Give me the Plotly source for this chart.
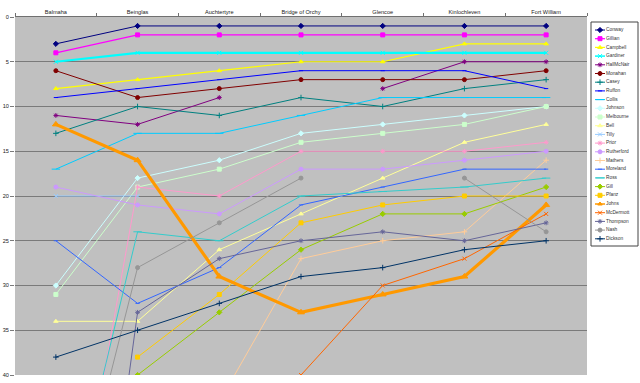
import plotly.graph_objects as go

# ---------------- data ----------------
stages = ["Balmaha", "Beinglas", "Auchtertyre", "Bridge of Orchy",
          "Glencoe", "Kinlochleven", "Fort William"]

conway     = [3, 1, 1, 1, 1, 1, 1]
gillian    = [4, 2, 2, 2, 2, 2, 2]
campbell   = [8, 7, 6, 5, 5, 3, 3]
gardiner   = [5, 4, 4, 4, 4, 4, 4]
hallmcnair = [11, 12, 9, None, 8, 5, 5]
monahan    = [6, 9, 8, 7, 7, 7, 6]
casey      = [13, 10, 11, 9, 10, 8, 7]
ruffon     = [9, 8, 7, 6, 6, 6, 8]
collis     = [17, 13, 13, 11, 9, 9, 9]
johnson    = [30, 18, 16, 13, 12, 11, 10]
melbourne  = [31, 19, 17, 14, 13, 12, 10]
bell       = [34, 34, 26, 22, 18, 14, 12]
tilly      = [20, 20, None, None, None, None, None]
prior      = [70, 19, 20, 15, 15, 15, 14]
rutherford = [19, 21, 22, 17, 17, 16, 15]
mathers    = [None, None, 43, 27, 25, 24, 16]
moreland   = [25, 32, 28, 21, 19, 17, 17]
ross       = [62, 24, 25, 20, 19.5, 19, 18]
gill       = [None, 40, 33, 26, 22, 22, 19]
pfanz      = [None, 38, 31, 23, 21, 20, 20]
johns      = [12, 16, 29, 33, 31, 29, 21]
mcdermott  = [None, None, None, 40, 30, 27, 22]
thompson   = [100, 33, 27, 25, 24, 25, 23]
nash       = [64, 28, 23, 18, None, 18, 24]
dickson    = [38, 35, 32, 29, 28, 26, 25]

names = ["Conway", "Gillian", "Campbell", "Gardiner", "HallMcNair", "Monahan",
         "Casey", "Ruffon", "Collis", "Johnson", "Melbourne", "Bell", "Tilly",
         "Prior", "Rutherford", "Mathers", "Moreland", "Ross", "Gill", "Pfanz",
         "Johns", "McDermott", "Thompson", "Nash", "Dickson"]
series = [conway, gillian, campbell, gardiner, hallmcnair, monahan, casey,
          ruffon, collis, johnson, melbourne, bell, tilly, prior, rutherford,
          mathers, moreland, ross, gill, pfanz, johns, mcdermott, thompson,
          nash, dickson]
y_ticks = [0, 5, 10, 15, 20, 25, 30, 35, 40]

# ---------------- styles ----------------
colors = ["#000080", "#FF00FF", "#FFFF00", "#00FFFF", "#800080", "#800000",
          "#008080", "#0000FF", "#00CCFF", "#CCFFFF", "#CCFFCC", "#FFFF99",
          "#99CCFF", "#FF99CC", "#CC99FF", "#FFCC99", "#3366FF", "#33CCCC",
          "#99CC00", "#FFCC00", "#FF9900", "#FF6600", "#666699", "#969696",
          "#003366"]
sym_cycle = ["diamond", "square", "triangle-up", "x-thin-open", "asterisk-open",
             "circle", "cross-thin-open", "line-ew-open", "line-ew-open"]
size_cycle = [4, 4, 4, 4, 4, 4, 4, 3, 6]
widths = {1: 1.2, 2: 1.2, 3: 2.2, 20: 3.2}

FONT = "Liberation Sans, Arial, sans-serif"
W, H = 640, 383
L, R, T, B = 15, 587, 17, 375

fig = go.Figure()

for i, (nm, vals) in enumerate(zip(names, series)):
    c = colors[i]
    fig.add_trace(go.Scatter(
        x=stages, y=vals, mode="lines+markers", name=nm,
        line=dict(color=c, width=widths.get(i, 1)),
        marker=dict(symbol=sym_cycle[i % 9],
                    size=size_cycle[i % 9] + (2 if i == 20 else 0),
                    color=c, line=dict(color=c, width=1)),
        connectgaps=False, showlegend=False, xaxis="x", yaxis="y"))

# ---------------- custom legend ----------------
LG_L, LG_R, LG_T, LG_B = 591, 638, 22, 246
leg_y = [8 + 8.7 * k for k in range(len(names))]
for i, nm in enumerate(names):
    c = colors[i]
    fig.add_trace(go.Scatter(
        x=[4, 14], y=[leg_y[i], leg_y[i]], mode="lines",
        line=dict(color=c, width=min(widths.get(i, 1), 1.5)),
        showlegend=False, hoverinfo="skip", xaxis="x2", yaxis="y2"))
    fig.add_trace(go.Scatter(
        x=[9], y=[leg_y[i]], mode="markers",
        marker=dict(symbol=sym_cycle[i % 9], size=size_cycle[i % 9],
                    color=c, line=dict(color=c, width=1)),
        showlegend=False, hoverinfo="skip", xaxis="x2", yaxis="y2"))
fig.add_trace(go.Scatter(
    x=[15] * len(names), y=leg_y, mode="text", text=names,
    textposition="middle right",
    textfont=dict(family=FONT, size=4.8, color="#333333"),
    showlegend=False, hoverinfo="skip", cliponaxis=False,
    xaxis="x2", yaxis="y2"))

fig.update_layout(
    template="none",
    width=W, height=H,
    margin=dict(l=0, r=0, t=0, b=0, pad=0),
    paper_bgcolor="white", plot_bgcolor="white",
    font=dict(family=FONT, size=6, color="#222222"),
    xaxis=dict(domain=[L / W, R / W], type="category",
               categoryorder="array", categoryarray=stages,
               range=[-0.5, 6.5], side="top", anchor="y", automargin=False,
               showline=True, linecolor="#707070", linewidth=1,
               ticks="outside", tickson="boundaries", ticklen=3,
               tickcolor="#707070", showgrid=False, zeroline=False,
               tickfont=dict(size=5.6, color="#222222")),
    yaxis=dict(domain=[(H - B) / H, (H - T) / H], range=[40, 0],
               tickvals=y_ticks, showgrid=True, gridcolor="#7a7a7a",
               gridwidth=1, zeroline=False, showline=False, automargin=False,
               ticks="outside", ticklen=4, tickcolor="#7a7a7a",
               tickfont=dict(size=5.6, color="#222222"), anchor="x"),
    xaxis2=dict(domain=[LG_L / W, LG_R / W], range=[0, LG_R - LG_L],
                visible=False, anchor="y2", fixedrange=True, automargin=False),
    yaxis2=dict(domain=[(H - LG_B) / H, (H - LG_T) / H],
                range=[LG_B - LG_T, 0], visible=False, anchor="x2",
                fixedrange=True, automargin=False),
    shapes=[
        dict(type="rect", xref="x domain", yref="y domain",
             x0=0, x1=1, y0=0, y1=1, layer="below",
             fillcolor="#C0C0C0", line=dict(width=0)),
        dict(type="rect", xref="x2 domain", yref="y2 domain",
             x0=0, x1=1, y0=0, y1=1, layer="below",
             fillcolor="white", line=dict(color="#444444", width=1)),
    ],
)

fig.write_html("out.html",
               config={"displayModeBar": False},
               post_script="document.body.style.margin='0';"
                           "document.body.style.overflow='hidden';")
